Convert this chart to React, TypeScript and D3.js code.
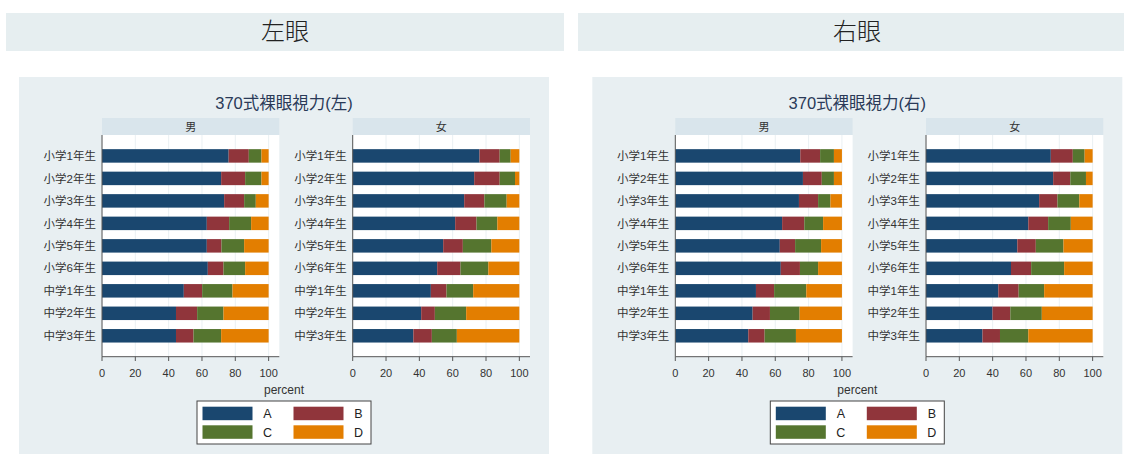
import React from 'react'
import * as d3 from 'd3'

const grades = ['小学1年生', '小学2年生', '小学3年生', '小学4年生', '小学5年生', '小学6年生', '中学1年生', '中学2年生', '中学3年生']
const keys = ['A', 'B', 'C', 'D']
const colors = ['#1a476f', '#90353b', '#55752f', '#e37e00']
const xTicks = [0, 20, 40, 60, 80, 100]

// [A, B, C, D] percent per grade
const leftMale = [
  [76, 12.1, 7.6, 4.3], [71.5, 14.4, 9.8, 4.3], [73.3, 12, 7, 7.7],
  [62.9, 13.4, 13.2, 10.5], [62.9, 8.8, 13.6, 14.7], [63.5, 9.4, 13, 14.1],
  [49.1, 11, 18.2, 21.7], [44.4, 12.7, 15.8, 27.1], [44.4, 10.5, 16.6, 28.5]
]
const leftFemale = [
  [76.1, 12.1, 6.6, 5.2], [72.9, 15.3, 9.2, 2.6], [66.9, 12.1, 13.4, 7.6],
  [61.5, 12.8, 12.5, 13.2], [54.3, 11.8, 17.1, 16.8], [50.7, 14, 16.7, 18.6],
  [46.9, 9.4, 16, 27.7], [41.1, 8.2, 18.8, 31.9], [36.4, 11.1, 15, 37.5]
]
const rightMale = [
  [75, 11.9, 8.3, 4.8], [76.6, 11.3, 7.3, 4.8], [74.2, 11.5, 7.4, 6.9],
  [64.1, 13.3, 11.3, 11.3], [62.7, 9.2, 15.6, 12.5], [63.3, 11.5, 10.9, 14.3],
  [48.4, 10.9, 19.3, 21.4], [46.4, 10.4, 17.8, 25.4], [43.8, 9.8, 18.8, 27.6]
]
const rightFemale = [
  [74.9, 13.2, 7.1, 4.8], [76.3, 10.3, 9.4, 4], [67.9, 11, 13.1, 8],
  [61.4, 11.9, 13.6, 13.1], [54.8, 11.1, 16.6, 17.5], [51, 12.1, 19.8, 17.1],
  [43.4, 12.2, 15.3, 29.1], [39.9, 10.7, 18.9, 30.5], [33.9, 10.5, 17, 38.6]
]

const FONT = '"Liberation Sans", "Noto Sans CJK JP", sans-serif'
const CJK = '"Noto Sans CJK JP", sans-serif'

const y = d3.scaleBand<string>()
  .domain(grades)
  .range([135, 356.7])
  .paddingInner(0.4)
  .paddingOuter(0.63)

function Panel ({ x0, label, rows }: { x0: number, label: string, rows: number[][] }) {
  const x = d3.scaleLinear().domain([0, 106.4]).range([x0, x0 + 177.3])
  const data = rows.map((r, i) => ({ grade: grades[i], A: r[0], B: r[1], C: r[2], D: r[3] }))
  const series = d3.stack<any>().keys(keys)(data)
  const [left, right] = x.range()
  return (
    <g>
      <rect x={left} y={118} width={right - left} height={17} fill='#d9e5ec' />
      <text x={(left + right) / 2} y={130.5} textAnchor='middle' fontSize={11} fill='#333' fontFamily={CJK}>{label}</text>
      <rect x={left} y={135} width={right - left} height={221.7} fill='#fff' />
      {xTicks.map(t => (
        <line key={t} x1={x(t)} x2={x(t)} y1={135} y2={356.7} stroke='#eaf0f3' strokeWidth={1} />
      ))}
      {series.map((s, si) => (
        <g key={s.key} fill={colors[si]}>
          {s.map((d, i) => (
            <rect key={i} x={x(d[0])} width={x(d[1]) - x(d[0])} y={y(grades[i])} height={y.bandwidth()} />
          ))}
        </g>
      ))}
      <line x1={left} x2={left} y1={135} y2={356.7} stroke='#555' strokeWidth={1} />
      <line x1={left} x2={right} y1={356.7} y2={356.7} stroke='#555' strokeWidth={1} />
      {grades.map(g => (
        <text key={g} x={left - 6} y={y(g)! + y.bandwidth() / 2} dy='0.36em' textAnchor='end' fontSize={11.5} fill='#333' fontFamily={FONT}>{g}</text>
      ))}
      {xTicks.map(t => (
        <g key={t}>
          <line x1={x(t)} x2={x(t)} y1={356.7} y2={361} stroke='#555' />
          <text x={x(t)} y={373} dy='0.35em' textAnchor='middle' fontSize={11} fill='#333' fontFamily={FONT}>{t}</text>
        </g>
      ))}
    </g>
  )
}

function Chart ({ dx, title, male, female }: { dx: number, title: string, male: number[][], female: number[][] }) {
  const cx = 284
  return (
    <g transform={`translate(${dx},0)`}>
      <rect x={19} y={77} width={530} height={378} fill='#e8eff2' />
      <text x={cx} y={103} dy='0.35em' textAnchor='middle' fontSize={16.5} fill='#2a3a58' fontFamily={FONT}>{title}</text>
      <Panel x0={102} label='男' rows={male} />
      <Panel x0={352.7} label='女' rows={female} />
      <text x={cx} y={390} dy='0.35em' textAnchor='middle' fontSize={12} fill='#333' fontFamily={FONT}>percent</text>
      <rect x={197} y={401} width={174} height={43} fill='#fff' stroke='#444' strokeWidth={1} />
      {keys.map((k, i) => {
        const col = i % 2
        const row = Math.floor(i / 2)
        const sx = 202.5 + col * 91
        const sy = 406.7 + row * 18.6
        return (
          <g key={k}>
            <rect x={sx} y={sy} width={50} height={13.5} fill={colors[i]} />
            <text x={sx + 65} y={sy + 6.75} dy='0.36em' textAnchor='middle' fontSize={12.5} fill='#222' fontFamily={FONT}>{k}</text>
          </g>
        )
      })}
    </g>
  )
}

export default function App () {
  return (
    <svg width={1124} height={454} style={{ position: 'absolute', left: 0, top: 0, background: '#fff' }}>
      <rect x={6} y={13} width={558} height={38} fill='#e6eef0' />
      <rect x={578} y={13} width={546} height={38} fill='#e6eef0' />
      <text x={285} y={32} dy='0.35em' textAnchor='middle' fontSize={24} fill='#222' fontFamily={CJK} fontWeight={300}>左眼</text>
      <text x={857} y={32} dy='0.35em' textAnchor='middle' fontSize={24} fill='#222' fontFamily={CJK} fontWeight={300}>右眼</text>
      <Chart dx={0} title='370式裸眼視力(左)' male={leftMale} female={leftFemale} />
      <Chart dx={573.3} title='370式裸眼視力(右)' male={rightMale} female={rightFemale} />
    </svg>
  )
}
